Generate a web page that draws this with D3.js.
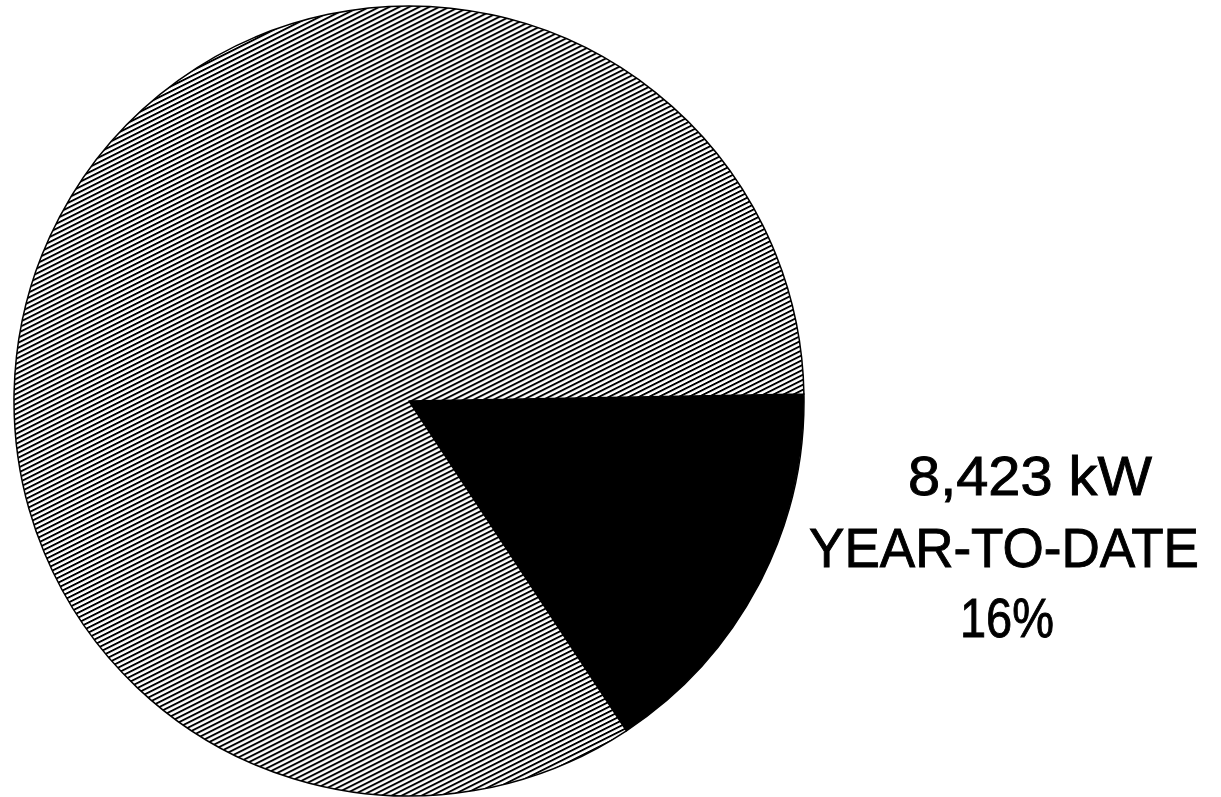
<!DOCTYPE html>
<html>
<head>
<meta charset="utf-8">
<script src="https://cdn.jsdelivr.net/npm/d3@7"></script>
<style>
  html, body { margin: 0; padding: 0; background: #fff; }
  svg { display: block; }
</style>
</head>
<body>
<svg id="chart" width="1221" height="797"></svg>
<script>
// Share of the annual total achieved so far
const categories = ["YEAR-TO-DATE", "REMAINING"];
const shares = [16, 84];
const fills = ["solid", "hatch"];
const labelLines = ["8,423 kW", "YEAR-TO-DATE", "16%"];

const svg = d3.select("#chart");
const cx = 409, cy = 401, radius = 395;

// Diagonal hatching for the unshaded remainder
const defs = svg.append("defs");
const hatch = defs.append("pattern")
  .attr("id", "hatch")
  .attr("patternUnits", "userSpaceOnUse")
  .attr("width", 20)
  .attr("height", 4.47)
  .attr("patternTransform", "rotate(-26.6)");
hatch.append("rect").attr("width", 20).attr("height", 4.47).attr("fill", "#fff");
hatch.append("rect").attr("y", 0).attr("width", 20).attr("height", 1.9).attr("fill", "#000");

const deg = Math.PI / 180;
const start = 89 * deg;
const pie = d3.pie().sort(null).value(d => d.v)
  .startAngle(start).endAngle(start + 2 * Math.PI);
const arc = d3.arc().innerRadius(0).outerRadius(radius);

const data = categories.map((c, i) => ({ c, v: shares[i], f: fills[i] }));

const g = svg.append("g").attr("transform", `translate(${cx},${cy})`);
g.selectAll("path.slice")
  .data(pie(data))
  .join("path")
  .attr("class", "slice")
  .attr("d", arc)
  .attr("fill", d => d.data.f === "solid" ? "#000" : "url(#hatch)")
  .attr("stroke", "#000")
  .attr("stroke-width", 1.5)
  .attr("stroke-linejoin", "round");

// Label to the right of the solid slice
const lineX = [1030, 1004, 1007];
const lineY = [495, 567, 637];
const lineW = [244, 390, 94];
svg.selectAll("text.lbl")
  .data(labelLines)
  .join("text")
  .attr("class", "lbl")
  .attr("x", (d, i) => lineX[i])
  .attr("y", (d, i) => lineY[i])
  .attr("text-anchor", "middle")
  .attr("font-family", "'Liberation Sans', Arial, Helvetica, sans-serif")
  .attr("font-size", 55)
  .attr("fill", "#000")
  .attr("stroke", "#000")
  .attr("stroke-width", 0.9)
  .attr("textLength", (d, i) => lineW[i])
  .attr("lengthAdjust", "spacingAndGlyphs")
  .text(d => d);
</script>
</body>
</html>
